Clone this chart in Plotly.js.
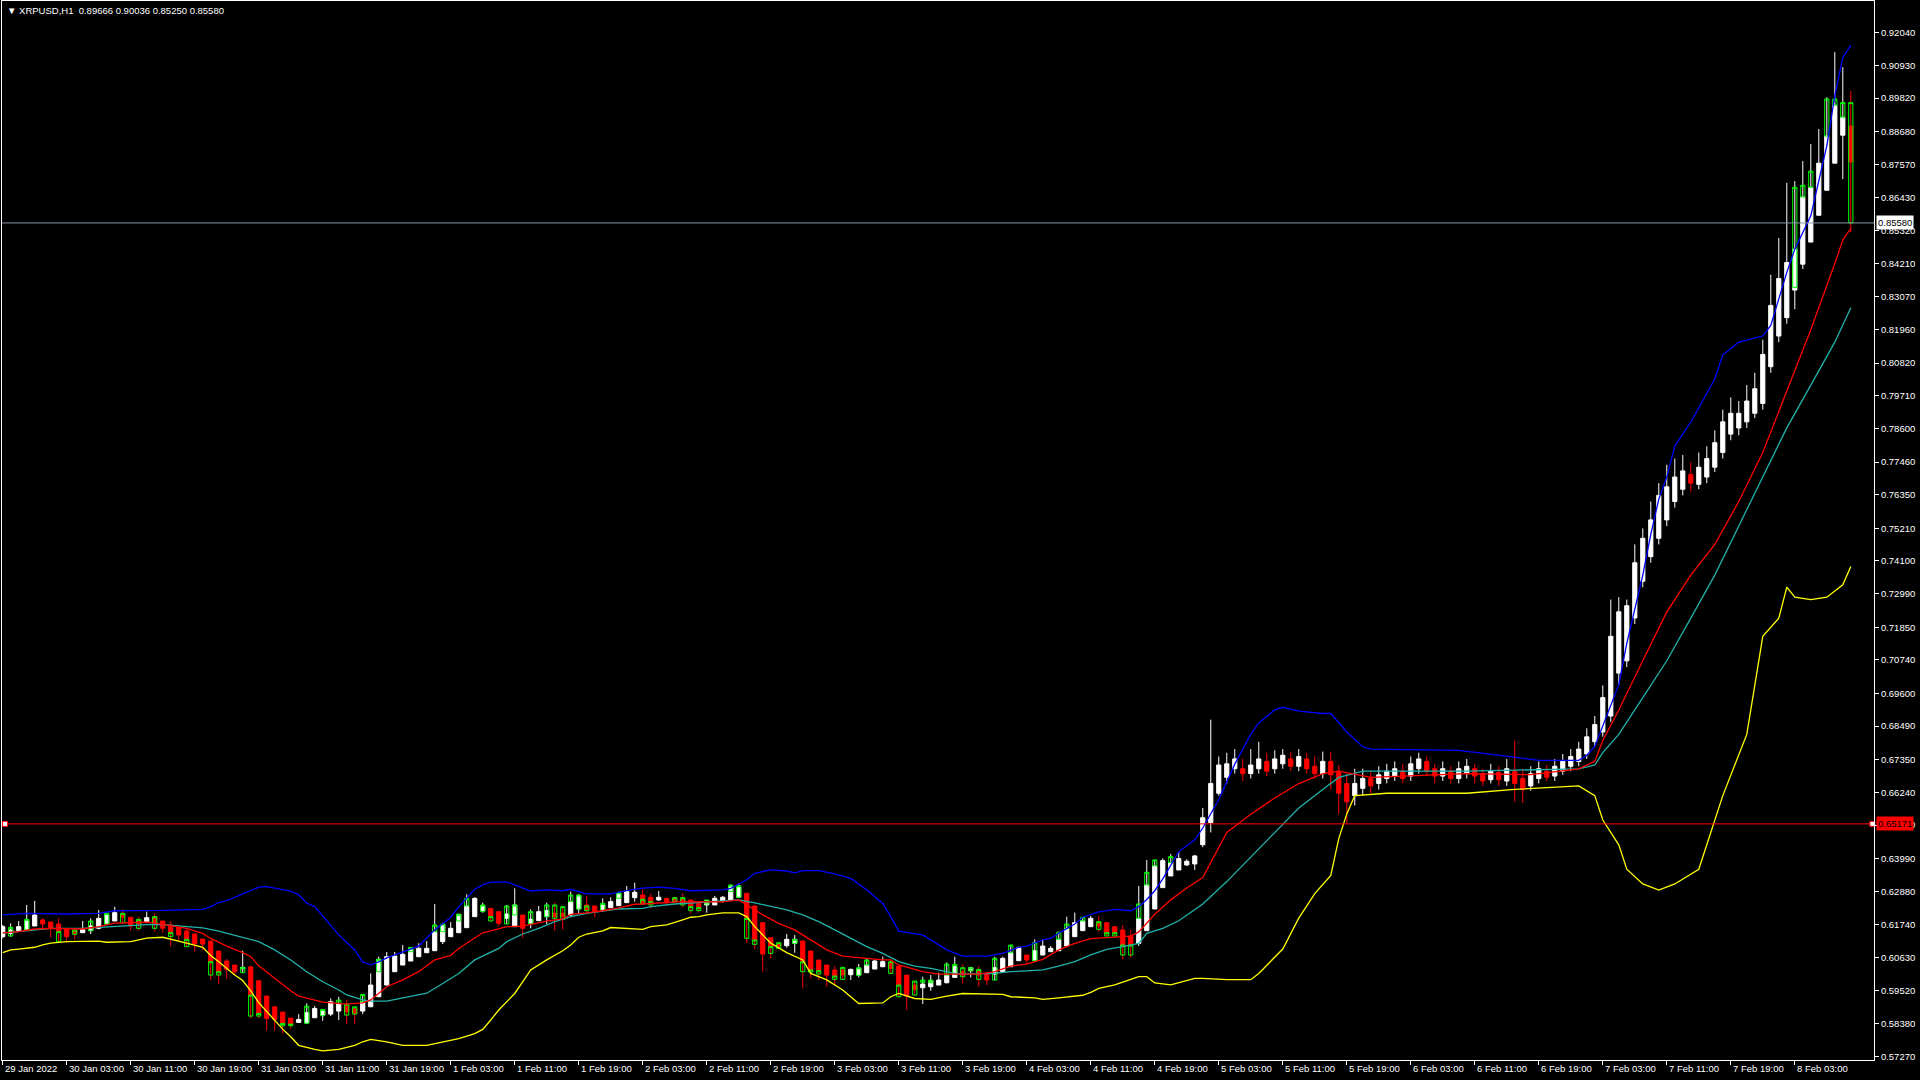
<!DOCTYPE html>
<html>
<head>
<meta charset="utf-8">
<script src="https://cdn.plot.ly/plotly-3.0.1.min.js"></script>
<style>
html,body{margin:0;padding:0;background:#000;}
#chart{width:1920px;height:1080px;}
</style>
</head>
<body>
<div id="chart"></div>
<script>
// ---- Symbol header values (O, H, L, C of last bar) ----
const symbolName = "XRPUSD,H1";
const lastOHLC = ["0.89666", "0.90036", "0.85250", "0.85580"];

// ---- Heikin Ashi style bars (white = up, red = down), bar index 0 = 29 Jan 2022 19:00 ----
const haOpen = [
0.61339,0.61453,0.61543,0.61566,0.61702,0.61906,0.61838,0.61770,0.61589,0.61566,
0.61475,0.61543,0.61623,0.61770,0.61872,0.62110,0.61997,0.61883,0.61849,0.62019,
0.61872,0.61736,0.61657,0.61532,0.61430,0.61260,0.61192,0.60852,0.60512,0.60376,
0.60251,0.60319,0.59843,0.59322,0.58959,0.58778,0.58574,0.58427,0.58427,0.58585,
0.58676,0.58710,0.58812,0.58982,0.58891,0.58812,0.58959,0.59300,0.59696,0.60149,
0.60376,0.60512,0.60659,0.60795,0.60863,0.61170,0.61339,0.61475,0.61645,0.62019,
0.62223,0.62303,0.62189,0.61963,0.61679,0.62076,0.61793,0.61883,0.62019,0.62133,
0.62133,0.62076,0.62280,0.62416,0.62382,0.62269,0.62325,0.62393,0.62495,0.62665,
0.62756,0.62677,0.62586,0.62643,0.62643,0.62609,0.62586,0.62473,0.62416,0.62416,
0.62552,0.62586,0.62677,0.62813,0.62382,0.61815,0.61305,0.61113,0.61033,0.61113,
0.61192,0.60852,0.60546,0.60376,0.60206,0.60206,0.60047,0.60036,0.60115,0.60240,
0.60319,0.60455,0.60342,0.60036,0.59696,0.59606,0.59639,0.59696,0.59775,0.59957,
0.60149,0.60183,0.60183,0.60070,0.60070,0.60149,0.60319,0.60523,0.60716,0.60523,
0.60716,0.60829,0.60863,0.61022,0.61339,0.61543,0.61679,0.61827,0.61815,0.61679,
0.61566,0.61362,0.61113,0.61543,0.62280,0.63006,0.63402,0.63606,0.63776,0.63810,
0.64463,0.65212,0.66211,0.66752,0.67044,0.67044,0.66877,0.67044,0.67293,0.67044,
0.67210,0.67377,0.67127,0.67377,0.67127,0.66877,0.67293,0.66961,0.66544,0.66128,
0.66378,0.66711,0.66544,0.66711,0.66794,0.66961,0.66794,0.67044,0.67293,0.67044,
0.66794,0.66961,0.66711,0.66877,0.67044,0.66877,0.66669,0.66919,0.66627,0.66961,
0.66711,0.66461,0.66711,0.66961,0.66794,0.66961,0.67127,0.67293,0.67543,0.67960,
0.68293,0.68834,0.70291,0.70707,0.72164,0.73413,0.74246,0.74870,0.75495,0.76119,
0.76535,0.77035,0.76702,0.76951,0.77284,0.77784,0.78408,0.78617,0.78824,0.79116,
0.79449,0.80698,0.81739,0.82363,0.8330,0.8418,0.8493,0.8584,0.8669,0.8761,
0.8856,0.8887];
const haHigh = [
0.61736,0.61793,0.61872,0.62416,0.62552,0.61963,0.61838,0.61963,0.61589,0.61566,
0.61872,0.61963,0.62246,0.62155,0.62359,0.62269,0.61997,0.62019,0.62189,0.62133,
0.61872,0.61872,0.61657,0.61623,0.61430,0.61260,0.61192,0.60852,0.60580,0.60376,
0.60863,0.60319,0.59843,0.59322,0.58959,0.58778,0.58574,0.58710,0.59073,0.58982,
0.58869,0.59243,0.59300,0.59186,0.58959,0.59379,0.60092,0.60659,0.60818,0.60818,
0.61056,0.60977,0.61113,0.61192,0.62450,0.61815,0.61838,0.62099,0.62779,0.62677,
0.62495,0.62303,0.62189,0.62416,0.62983,0.62076,0.62269,0.62382,0.62495,0.62495,
0.62382,0.62869,0.62790,0.62733,0.62382,0.62643,0.62677,0.62869,0.63062,0.63175,
0.62949,0.62790,0.62892,0.62643,0.62699,0.62813,0.62586,0.62495,0.62586,0.62722,
0.62722,0.63119,0.63153,0.62813,0.62382,0.61815,0.61305,0.61135,0.61430,0.61396,
0.61192,0.60852,0.60546,0.60376,0.60342,0.60319,0.60252,0.60410,0.60603,0.60546,
0.60659,0.60569,0.60342,0.60036,0.59832,0.59979,0.60036,0.60115,0.60467,0.60659,
0.60399,0.60319,0.60342,0.60149,0.60659,0.60659,0.61056,0.60999,0.60716,0.61249,
0.61249,0.61022,0.61509,0.62019,0.62155,0.62019,0.62042,0.62042,0.61815,0.61679,
0.61736,0.61566,0.63062,0.63946,0.63946,0.64003,0.64150,0.64229,0.63969,0.64116,
0.65712,0.68709,0.67460,0.67585,0.67710,0.67377,0.67710,0.67960,0.67585,0.67668,
0.67710,0.67626,0.67710,0.67585,0.67460,0.67626,0.67626,0.67169,0.66877,0.67044,
0.67044,0.66961,0.67127,0.67210,0.67293,0.67210,0.67460,0.67585,0.67460,0.67210,
0.67293,0.67127,0.67293,0.67377,0.67210,0.67044,0.67210,0.67127,0.67377,0.68001,
0.67044,0.67127,0.67293,0.67169,0.67377,0.67543,0.67710,0.67960,0.68418,0.68834,
0.69875,0.72789,0.72872,0.72789,0.74662,0.75203,0.76119,0.76743,0.77368,0.77576,
0.77701,0.77451,0.77784,0.77992,0.78533,0.79241,0.79657,0.79532,0.80074,0.80490,
0.81614,0.83820,0.85069,0.86942,0.8700,0.8768,0.8826,0.8877,0.8985,0.9138,
0.9087,0.9006];
const haLow = [
0.61283,0.61339,0.61543,0.61566,0.61702,0.61566,0.61305,0.61169,0.61135,0.61249,
0.61475,0.61430,0.61589,0.61770,0.61872,0.61793,0.61543,0.61543,0.61793,0.61509,
0.61475,0.61000,0.61226,0.61000,0.60829,0.60886,0.59866,0.59730,0.59900,0.60036,
0.60115,0.58563,0.58563,0.58143,0.58143,0.58053,0.58211,0.58415,0.58370,0.58585,
0.58483,0.58642,0.58506,0.58370,0.58370,0.58710,0.58959,0.59300,0.59696,0.60149,
0.60376,0.60512,0.60659,0.60795,0.60863,0.61090,0.61339,0.61475,0.61645,0.62019,
0.62155,0.61849,0.61679,0.61770,0.61679,0.61305,0.61623,0.61883,0.61770,0.61543,
0.61589,0.62019,0.62110,0.62133,0.61997,0.62189,0.62325,0.62393,0.62495,0.62529,
0.62416,0.62303,0.62563,0.62416,0.62495,0.62337,0.62133,0.62155,0.62155,0.62416,
0.62495,0.62586,0.62677,0.61113,0.60920,0.60149,0.60603,0.60942,0.60965,0.60795,
0.59583,0.59923,0.59866,0.59639,0.59696,0.59866,0.59866,0.59957,0.60115,0.60240,
0.60319,0.60070,0.59300,0.58846,0.59356,0.59050,0.59504,0.59696,0.59753,0.59957,
0.59753,0.59957,0.59640,0.59696,0.59866,0.60149,0.60319,0.60523,0.60410,0.60489,
0.60716,0.60829,0.60863,0.61022,0.61339,0.61543,0.61679,0.61509,0.61362,0.61362,
0.60569,0.60637,0.61022,0.61543,0.62280,0.63006,0.63402,0.63606,0.63742,0.63606,
0.64380,0.64879,0.66128,0.66544,0.66877,0.66627,0.66711,0.66877,0.66794,0.66877,
0.67044,0.66961,0.66961,0.66877,0.66711,0.66711,0.66336,0.65504,0.65212,0.65795,
0.66128,0.66211,0.66336,0.66544,0.66627,0.66544,0.66627,0.66877,0.66794,0.66544,
0.66627,0.66544,0.66544,0.66711,0.66544,0.66461,0.66544,0.66461,0.66461,0.65920,
0.65878,0.66295,0.66544,0.66627,0.66627,0.66836,0.66961,0.67127,0.67377,0.67793,
0.68127,0.68626,0.69875,0.70499,0.71956,0.73205,0.74038,0.74662,0.75286,0.75911,
0.76327,0.76452,0.76535,0.76743,0.77118,0.77576,0.78200,0.78367,0.78617,0.78949,
0.79241,0.80490,0.81530,0.82155,0.8265,0.8401,0.8493,0.8584,0.8669,0.8761,
0.8707,0.8527];
const haClose = [
0.61679,0.61566,0.61679,0.61883,0.62076,0.61770,0.61645,0.61509,0.61339,0.61453,
0.61589,0.61702,0.61963,0.62076,0.62155,0.61997,0.61702,0.61770,0.61985,0.61793,
0.61623,0.61475,0.61396,0.61249,0.61090,0.61090,0.60489,0.60149,0.60229,0.60149,
0.60296,0.59356,0.58733,0.58563,0.58529,0.58393,0.58370,0.58529,0.58755,0.58903,
0.58823,0.59130,0.59050,0.58789,0.58733,0.59130,0.59696,0.60569,0.60659,0.60682,
0.60739,0.60943,0.60943,0.60943,0.61509,0.61736,0.61623,0.62099,0.62382,0.62643,
0.62382,0.62019,0.61793,0.62110,0.62416,0.61623,0.61929,0.62189,0.62223,0.62019,
0.62019,0.62529,0.62733,0.62223,0.62189,0.62416,0.62529,0.62813,0.62869,0.62847,
0.62473,0.62495,0.62677,0.62495,0.62529,0.62473,0.62359,0.62325,0.62563,0.62643,
0.62677,0.63039,0.63017,0.61963,0.61226,0.60750,0.60999,0.60999,0.61249,0.61249,
0.60489,0.60206,0.60183,0.60036,0.60002,0.60036,0.60229,0.60263,0.60376,0.60512,
0.60489,0.60263,0.59696,0.59322,0.59549,0.59730,0.59843,0.59866,0.60036,0.60319,
0.60036,0.60285,0.60036,0.59866,0.60285,0.60603,0.60795,0.60977,0.60546,0.60863,
0.61022,0.60943,0.61249,0.61623,0.61815,0.61872,0.61963,0.61702,0.61453,0.61475,
0.61056,0.61056,0.61963,0.63096,0.63742,0.63923,0.63855,0.63991,0.63901,0.64082,
0.65379,0.66544,0.67169,0.67210,0.67377,0.66877,0.67169,0.67377,0.66961,0.67377,
0.67501,0.67127,0.67460,0.67044,0.66877,0.67293,0.66836,0.66211,0.65920,0.66544,
0.66711,0.66461,0.66836,0.66961,0.67044,0.66711,0.67210,0.67377,0.66961,0.66794,
0.67044,0.66711,0.67044,0.67127,0.66794,0.66627,0.66961,0.66669,0.67044,0.66544,
0.66336,0.66877,0.67044,0.66752,0.67127,0.67293,0.67460,0.67710,0.68127,0.68543,
0.69459,0.71540,0.72372,0.72580,0.74038,0.74870,0.75495,0.76327,0.76618,0.76951,
0.77159,0.76743,0.77284,0.77576,0.78117,0.78824,0.79116,0.79116,0.79532,0.79949,
0.81114,0.82779,0.8369,0.84236,0.8469,0.8646,0.8679,0.8761,0.8853,0.8958,
0.8917,0.8765];

// ---- Real candle bodies drawn with lime outline (index, top, bottom) ----
const gIdx = [1,3,7,9,11,13,15,17,19,21,23,26,27,30,31,32,35,36,38,40,42,43,44,45,47,51,54,55,57,58,60,61,63,64,66,68,69,70,71,72,73,75,77,80,81,84,85,86,87,88,91,92,93,94,96,97,99,100,101,102,104,105,107,108,111,112,114,115,116,118,119,120,121,122,124,126,129,132,133,135,137,138,139,140,141,142,143,144,146,224,225,226,228,229,230,231];
const gTop = [0.61657,0.61929,0.61509,0.61566,0.61872,0.62133,0.62133,0.61929,0.62019,0.61475,
0.61249,0.60489,0.60149,0.60296,0.59356,0.58733,0.58393,0.58370,0.58982,0.58869,
0.59186,0.59050,0.58959,0.59379,0.60569,0.60977,0.61736,0.61770,0.62099,0.62643,
0.62416,0.62019,0.62382,0.62416,0.62189,0.62416,0.62416,0.62359,0.62756,0.62756,
0.62382,0.62473,0.62836,0.62609,0.62529,0.62665,0.62665,0.62359,0.62325,0.62586,
0.63096,0.63073,0.61963,0.61226,0.60999,0.61135,0.61249,0.60489,0.60206,0.60183,
0.60002,0.60297,0.60285,0.60546,0.60489,0.59696,0.59832,0.59866,0.59866,0.60410,
0.60399,0.60285,0.60285,0.60229,0.60603,0.61056,0.61136,0.61487,0.61770,0.61997,
0.61849,0.61475,0.61475,0.61056,0.61056,0.62450,0.63527,0.63946,0.64059,0.8679,
0.8686,0.8734,0.8979,0.8979,0.8967,0.89666];
const gBot = [0.61362,0.61566,0.61169,0.61419,0.61543,0.61770,0.61815,0.61623,0.61623,0.61339,
0.61000,0.60036,0.60036,0.60115,0.58642,0.58642,0.58313,0.58313,0.58393,0.58653,
0.59073,0.58676,0.58710,0.59130,0.60149,0.60829,0.61509,0.61509,0.61872,0.62382,
0.62189,0.61872,0.61770,0.62076,0.61770,0.62019,0.61963,0.61929,0.62529,0.62280,
0.62223,0.62223,0.62643,0.62450,0.62416,0.62529,0.62416,0.62223,0.62223,0.62450,
0.62869,0.62677,0.61283,0.61079,0.60773,0.60942,0.61113,0.60149,0.60138,0.60070,
0.59889,0.59889,0.60025,0.60376,0.60093,0.59300,0.59356,0.59787,0.59775,0.60036,
0.60070,0.59979,0.60183,0.59889,0.59866,0.60795,0.60523,0.61249,0.61623,0.61872,
0.61589,0.61362,0.61362,0.60716,0.60716,0.61963,0.63096,0.63742,0.63855,0.8339,
0.8646,0.8679,0.8853,0.8958,0.8917,0.85580];

// ---- Indicator lines (bar index, price) ----
const blueX = [0,3,8,12,14,20,25,26,27,28,30,32,33,34,36,37,38,39,40,42,44,45,46,47,48,50,52,54,55,56,57,58,59,60,61,63,64,66,68,70,71,73,76,78,80,82,84,86,90,91,93,94,96,98,99,100,102,104,106,108,110,111,112,115,116,118,120,123,125,127,128,130,131,132,134,135,137,139,141,142,143,144,145,146,147,149,150,152,154,156,157,159,160,162,165,166,168,170,171,182,188,192,197,198,199,200,202,203,205,206,207,208,209,211,214,215,217,220,221,222,223,224,226,228,229,230,231];
const blueY = [0.6208,0.6213,0.6211,0.6213,0.6222,0.6223,0.6227,0.6236,0.6250,0.6256,0.6279,0.6302,0.6304,0.6299,0.6289,0.6276,0.6248,0.6236,0.6204,0.6140,0.6089,0.6048,0.6038,0.6048,0.6062,0.6082,0.6102,0.6157,0.6180,0.6200,0.6235,0.6265,0.6295,0.6310,0.6319,0.6319,0.6310,0.6289,0.6293,0.6290,0.6295,0.6279,0.6279,0.6290,0.6299,0.6302,0.6298,0.6290,0.6293,0.6298,0.6327,0.6349,0.6361,0.6357,0.6351,0.6358,0.6358,0.6347,0.6332,0.6293,0.6247,0.6202,0.6153,0.6140,0.6123,0.6089,0.6068,0.6068,0.6077,0.6098,0.6102,0.6123,0.6128,0.6146,0.6177,0.6200,0.6218,0.6227,0.6222,0.6236,0.6260,0.6290,0.6330,0.6375,0.6423,0.6463,0.6503,0.6600,0.6720,0.6821,0.6860,0.6904,0.6913,0.6900,0.6892,0.6892,0.6829,0.6779,0.6771,0.6767,0.6746,0.6733,0.6733,0.6750,0.6780,0.6850,0.6990,0.7130,0.7362,0.7500,0.7620,0.7695,0.7800,0.7882,0.8028,0.8110,0.8153,0.8174,0.8210,0.8300,0.8390,0.8469,0.8582,0.8820,0.8990,0.9120,0.9162];

const redX = [0,2,4,6,10,12,14,18,20,22,23,24,25,26,27,28,30,31,32,34,35,36,37,39,40,43,45,46,48,50,52,54,55,56,57,59,60,61,63,65,66,68,70,71,73,75,77,79,80,83,85,90,92,93,95,97,99,101,103,105,108,110,111,112,115,117,120,122,124,126,128,130,132,134,136,138,140,141,142,143,144,146,148,150,152,153,156,159,162,165,167,171,183,191,197,199,200,202,205,208,211,214,217,220,223,226,229,230,231];
const redY = [0.6147,0.6151,0.6160,0.6162,0.6160,0.6168,0.6180,0.6183,0.6176,0.6168,0.6162,0.6154,0.6145,0.6128,0.6115,0.6102,0.6080,0.6066,0.6035,0.5992,0.5970,0.5950,0.5932,0.5919,0.5912,0.5905,0.5909,0.5919,0.5964,0.5987,0.6015,0.6055,0.6062,0.6070,0.6094,0.6128,0.6147,0.6154,0.6168,0.6170,0.6176,0.6187,0.6194,0.6210,0.6215,0.6222,0.6232,0.6244,0.6245,0.6249,0.6253,0.6252,0.6259,0.6242,0.6208,0.6179,0.6157,0.6123,0.6089,0.6068,0.6060,0.6055,0.6055,0.6038,0.6015,0.6007,0.6007,0.6007,0.6015,0.6034,0.6041,0.6057,0.6089,0.6111,0.6127,0.6130,0.6132,0.6136,0.6150,0.6180,0.6210,0.6259,0.6299,0.6335,0.6440,0.6488,0.6550,0.6605,0.6654,0.6688,0.6696,0.6675,0.6688,0.6684,0.6704,0.6730,0.6800,0.6904,0.7071,0.7237,0.7362,0.7466,0.7612,0.7778,0.7987,0.8195,0.8420,0.8500,0.8540];

const tealX = [0,2,4,6,10,12,14,16,18,20,22,25,27,29,30,32,34,36,38,40,42,43,45,46,48,50,53,55,57,59,60,62,63,65,67,69,71,73,75,77,80,81,84,86,90,92,94,96,98,100,102,104,106,108,110,112,114,116,119,120,124,126,128,130,132,134,136,138,140,142,143,145,147,149,150,153,156,159,162,165,167,170,183,197,199,200,202,205,208,211,214,217,220,223,226,229,231];
const tealY = [0.6146,0.6151,0.6156,0.6162,0.6162,0.6165,0.6170,0.6173,0.6175,0.6175,0.6170,0.6164,0.6153,0.6139,0.6132,0.6117,0.6089,0.6055,0.6015,0.5981,0.5953,0.5936,0.5919,0.5915,0.5915,0.5925,0.5942,0.5975,0.6009,0.6055,0.6068,0.6094,0.6117,0.6143,0.6162,0.6185,0.6202,0.6213,0.6221,0.6228,0.6230,0.6236,0.6245,0.6249,0.6255,0.6259,0.6249,0.6236,0.6225,0.6208,0.6185,0.6157,0.6128,0.6100,0.6077,0.6049,0.6034,0.6026,0.6009,0.6007,0.6009,0.6015,0.6018,0.6021,0.6034,0.6049,0.6072,0.6091,0.6100,0.6111,0.6145,0.6162,0.6188,0.6225,0.6245,0.6321,0.6405,0.6488,0.6571,0.6634,0.6675,0.6696,0.6696,0.6704,0.6717,0.6759,0.6821,0.6946,0.7071,0.7216,0.7362,0.7529,0.7695,0.7862,0.8007,0.8153,0.8270];

const yellowX = [0,1,2,4,5,6,8,12,13,16,17,18,20,21,22,23,25,26,27,28,29,30,31,32,33,35,36,37,39,40,42,44,45,46,48,50,53,55,57,59,60,61,62,64,66,68,70,71,72,73,75,76,78,80,81,83,85,86,87,88,90,92,93,94,96,98,100,101,103,105,107,110,111,112,114,116,118,120,125,126,129,130,132,135,136,137,139,140,142,143,144,146,147,149,150,153,156,157,160,162,164,166,167,168,169,173,183,189,197,199,200,202,203,205,207,209,212,213,215,218,220,222,223,224,226,228,230,231];
const yellowY = [0.6080,0.6089,0.6092,0.6098,0.6106,0.6112,0.6117,0.6119,0.6115,0.6117,0.6123,0.6129,0.6132,0.6126,0.6120,0.6112,0.6098,0.6070,0.6049,0.6026,0.6004,0.5985,0.5950,0.5910,0.5880,0.5820,0.5794,0.5765,0.5751,0.5746,0.5751,0.5765,0.5777,0.5785,0.5777,0.5765,0.5765,0.5777,0.5788,0.5805,0.5819,0.5851,0.5885,0.5941,0.6021,0.6055,0.6086,0.6106,0.6132,0.6143,0.6154,0.6165,0.6162,0.6159,0.6168,0.6174,0.6191,0.6200,0.6202,0.6208,0.6215,0.6215,0.6202,0.6168,0.6112,0.6080,0.6055,0.6009,0.5987,0.5953,0.5907,0.5909,0.5930,0.5941,0.5924,0.5921,0.5932,0.5941,0.5938,0.5930,0.5926,0.5921,0.5926,0.5935,0.5945,0.5958,0.5970,0.5979,0.5998,0.5998,0.5977,0.5970,0.5977,0.5992,0.5992,0.5988,0.5988,0.6009,0.6092,0.6197,0.6280,0.6342,0.6467,0.6551,0.6613,0.6621,0.6621,0.6634,0.6646,0.6613,0.6530,0.6446,0.6363,0.6313,0.6292,0.6313,0.6363,0.6446,0.6613,0.6821,0.7154,0.7216,0.7321,0.7287,0.7279,0.7287,0.7329,0.7391];

// ---- Horizontal levels ----
const bidLevel = 0.85580;
const lineLevel = 0.65171;

// ---- Axis ticks ----
const yTickVals = [0.92040,0.90930,0.89820,0.88680,0.87570,0.86430,0.85320,0.84210,0.83070,0.81960,0.80820,0.79710,0.78600,0.77460,0.76350,0.75210,0.74100,0.72990,0.71850,0.70740,0.69600,0.68490,0.67350,0.66240,0.65130,0.63990,0.62880,0.61740,0.60630,0.59520,0.58380,0.57270];
const xTickIdx = [0,8,16,24,32,40,48,56,64,72,80,88,96,104,112,120,128,136,144,152,160,168,176,184,192,200,208,216,224];
const xTickLabels = ["29 Jan 2022","30 Jan 03:00","30 Jan 11:00","30 Jan 19:00","31 Jan 03:00","31 Jan 11:00","31 Jan 19:00","1 Feb 03:00","1 Feb 11:00","1 Feb 19:00","2 Feb 03:00","2 Feb 11:00","2 Feb 19:00","3 Feb 03:00","3 Feb 11:00","3 Feb 19:00","4 Feb 03:00","4 Feb 11:00","4 Feb 19:00","5 Feb 03:00","5 Feb 11:00","5 Feb 19:00","6 Feb 03:00","6 Feb 11:00","6 Feb 19:00","7 Feb 03:00","7 Feb 11:00","7 Feb 19:00","8 Feb 03:00"];

const FONT = "Liberation Sans, Arial, sans-serif";
const barIdx = haOpen.map((_, i) => i);

const traces = [
  {
    type: "candlestick", x: barIdx, open: haOpen, high: haHigh, low: haLow, close: haClose,
    increasing: {line: {color: "#ffffff", width: 1}, fillcolor: "#ffffff"},
    decreasing: {line: {color: "#ff0000", width: 1}, fillcolor: "#ff0000"},
    whiskerwidth: 0, hoverinfo: "skip", showlegend: false
  },
  {
    type: "candlestick", x: gIdx, open: gBot, high: gTop, low: gBot, close: gTop,
    increasing: {line: {color: "#00ff00", width: 1}, fillcolor: "rgba(0,0,0,0)"},
    decreasing: {line: {color: "#00ff00", width: 1}, fillcolor: "rgba(0,0,0,0)"},
    whiskerwidth: 0, hoverinfo: "skip", showlegend: false
  },
  {type: "scatter", mode: "lines", x: yellowX, y: yellowY, line: {color: "#ffff00", width: 1.3}, hoverinfo: "skip", showlegend: false},
  {type: "scatter", mode: "lines", x: tealX, y: tealY, line: {color: "#20b2aa", width: 1.3}, hoverinfo: "skip", showlegend: false},
  {type: "scatter", mode: "lines", x: redX, y: redY, line: {color: "#ff0000", width: 1.3}, hoverinfo: "skip", showlegend: false},
  {type: "scatter", mode: "lines", x: blueX, y: blueY, line: {color: "#0000ff", width: 1.3}, hoverinfo: "skip", showlegend: false},
  {type: "scatter", mode: "lines", x: [-2, 240], y: [bidLevel, bidLevel], line: {color: "#8a96a8", width: 1}, hoverinfo: "skip", showlegend: false},
  {type: "scatter", mode: "lines", x: [-2, 240], y: [lineLevel, lineLevel], line: {color: "#ff0000", width: 1}, hoverinfo: "skip", showlegend: false},
  {type: "scatter", mode: "markers", x: [0.3, 233.7], y: [lineLevel, lineLevel], cliponaxis: false,
   marker: {symbol: "square", size: 5, color: "#ffffff", line: {color: "#ff0000", width: 1}}, hoverinfo: "skip", showlegend: false}
];

const annotations = [];
xTickIdx.forEach((v, k) => {
  annotations.push({
    x: v, xref: "x", y: 0, yref: "paper", xanchor: "left", yanchor: "top",
    xshift: 0, yshift: -1, showarrow: false, text: xTickLabels[k],
    font: {family: FONT, size: 9.5, color: "#ffffff"}
  });
});
annotations.push({
  x: 0, xref: "paper", y: 1, yref: "paper", xanchor: "left", yanchor: "top", xshift: 3, yshift: -2,
  showarrow: false, text: "\u25BC " + symbolName + "\u00a0\u00a0" + lastOHLC.join(" "),
  font: {family: FONT, size: 9.5, color: "#ffffff"}
});
annotations.push({
  x: 1, xref: "paper", y: bidLevel, yref: "y", xanchor: "left", yanchor: "middle", xshift: 2,
  showarrow: false, text: bidLevel.toFixed(5), bgcolor: "#ffffff", borderpad: 1,
  font: {family: FONT, size: 9.5, color: "#000000"}
});
annotations.push({
  x: 1, xref: "paper", y: lineLevel, yref: "y", xanchor: "left", yanchor: "middle", xshift: 2,
  showarrow: false, text: lineLevel.toFixed(5), bgcolor: "#ff0000", borderpad: 1,
  font: {family: FONT, size: 9.5, color: "#000000"}
});

const layout = {
  width: 1920, height: 1080,
  paper_bgcolor: "#000000", plot_bgcolor: "#000000",
  margin: {l: 2, r: 46, t: 1, b: 20, pad: 0},
  showlegend: false,
  boxgap: 0.25,
  xaxis: {
    type: "linear", range: [-0.0875, 233.9], rangeslider: {visible: false},
    showgrid: false, zeroline: false, showline: true, linecolor: "#ffffff", linewidth: 1, mirror: true,
    ticks: "outside", ticklen: 4, tickcolor: "#ffffff", tickwidth: 1,
    tickmode: "array", tickvals: xTickIdx, showticklabels: false, fixedrange: true
  },
  yaxis: {
    side: "right", range: [0.57151, 0.93118],
    showgrid: false, zeroline: false, showline: true, linecolor: "#ffffff", linewidth: 1, mirror: true,
    ticks: "outside", ticklen: 4, tickcolor: "#ffffff", tickwidth: 1,
    tickmode: "array", tickvals: yTickVals, ticktext: yTickVals.map(v => v.toFixed(5)),
    tickfont: {family: FONT, size: 9.5, color: "#ffffff"}, fixedrange: true
  },
  annotations: annotations
};

Plotly.newPlot("chart", traces, layout, {displayModeBar: false, staticPlot: true});
</script>
</body>
</html>
